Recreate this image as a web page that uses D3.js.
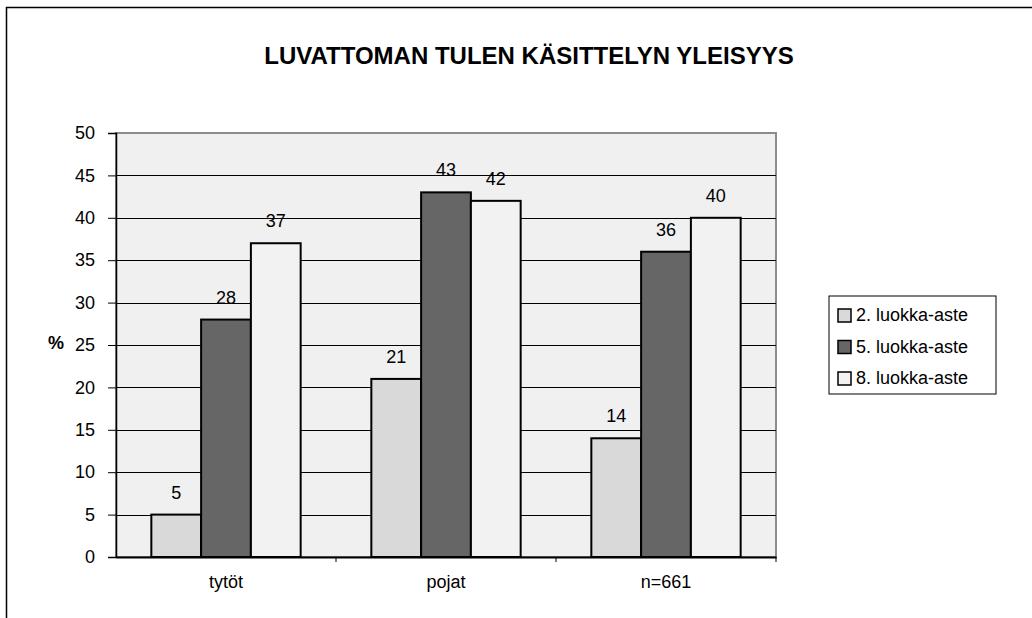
<!doctype html>
<html lang="fi">
<head>
<meta charset="UTF-8">
<title>Luvattoman tulen käsittelyn yleisyys</title>
<script src="https://cdn.jsdelivr.net/npm/d3@7"></script>
<style>
  body { margin: 0; background: #fff; }
  text { font-family: "Liberation Sans", Arial, sans-serif; fill: #000; }
</style>
</head>
<body>
<script>
var categories = ["tytöt", "pojat", "n=661"];
var seriesNames = ["2. luokka-aste", "5. luokka-aste", "8. luokka-aste"];
var grade2 = [5, 21, 14];
var grade5 = [28, 43, 36];
var grade8 = [37, 42, 40];
var yTicks = [0, 5, 10, 15, 20, 25, 30, 35, 40, 45, 50];
var colors = ["#d9d9d9", "#666666", "#f2f2f2"];

var seriesValues = [grade2, grade5, grade8];

var W = 1032, H = 618;
var plot = { left: 116, top: 133, right: 776, bottom: 557 };

var svg = d3.select("body").append("svg")
  .attr("width", W)
  .attr("height", H);

// outer chart border (top + left visible)
svg.append("path")
  .attr("d", "M6.5," + H + "V7.5H" + W)
  .attr("fill", "none")
  .attr("stroke", "#000")
  .attr("stroke-width", 1.5);

svg.append("text")
  .attr("x", 529)
  .attr("y", 64)
  .attr("text-anchor", "middle")
  .attr("font-size", "24px")
  .attr("font-weight", "bold")
  .text("LUVATTOMAN TULEN KÄSITTELYN YLEISYYS");

var x0 = d3.scaleBand()
  .domain(categories)
  .range([plot.left, plot.right]);

var x1 = d3.scaleBand()
  .domain(d3.range(seriesNames.length))
  .range([0, x0.bandwidth()])
  .paddingOuter(0.71)
  .paddingInner(0);

var y = d3.scaleLinear()
  .domain([0, 50])
  .range([plot.bottom, plot.top]);

// plot background
svg.append("rect")
  .attr("x", plot.left)
  .attr("y", plot.top)
  .attr("width", plot.right - plot.left)
  .attr("height", plot.bottom - plot.top)
  .attr("fill", "#f0f0f0")
  .attr("stroke", "#8c8c8c")
  .attr("stroke-width", 2);

// gridlines
svg.append("g")
  .selectAll("line")
  .data(yTicks.filter(function(d) { return d > 0 && d < 50; }))
  .enter().append("line")
  .attr("x1", plot.left)
  .attr("x2", plot.right)
  .attr("y1", function(d) { return Math.round(y(d)) + 0.5; })
  .attr("y2", function(d) { return Math.round(y(d)) + 0.5; })
  .attr("stroke", "#000")
  .attr("stroke-width", 1);

// y axis
var yAxis = d3.axisLeft(y)
  .tickValues(yTicks)
  .tickSize(8)
  .tickPadding(13);

var yG = svg.append("g")
  .attr("transform", "translate(" + plot.left + ",0)")
  .call(yAxis);
yG.select(".domain").attr("stroke", "#000").attr("stroke-width", 1.5);
yG.selectAll(".tick line").attr("stroke", "#000");
yG.selectAll(".tick text")
  .attr("font-size", "18px")
  .attr("font-family", "Liberation Sans, Arial, sans-serif")
  .attr("fill", "#000");

svg.append("text")
  .attr("x", 56)
  .attr("y", 349)
  .attr("text-anchor", "middle")
  .attr("font-size", "18px")
  .attr("font-weight", "bold")
  .text("%");

// bars
var groups = svg.append("g")
  .selectAll("g")
  .data(categories)
  .enter().append("g")
  .attr("transform", function(d) { return "translate(" + x0(d) + ",0)"; });

groups.selectAll("rect")
  .data(function(d, i) {
    return seriesValues.map(function(s, k) { return { k: k, v: s[i] }; });
  })
  .enter().append("rect")
  .attr("x", function(d) { return x1(d.k); })
  .attr("y", function(d) { return y(d.v); })
  .attr("width", x1.bandwidth())
  .attr("height", function(d) { return y(0) - y(d.v); })
  .attr("fill", function(d) { return colors[d.k]; })
  .attr("stroke", "#000")
  .attr("stroke-width", 2);

groups.selectAll("text")
  .data(function(d, i) {
    return seriesValues.map(function(s, k) { return { k: k, v: s[i] }; });
  })
  .enter().append("text")
  .attr("x", function(d) { return x1(d.k) + x1.bandwidth() / 2; })
  .attr("y", function(d) { return y(d.v) - 16; })
  .attr("text-anchor", "middle")
  .attr("font-size", "18px")
  .text(function(d) { return d.v; });

// x axis
var xAxis = d3.axisBottom(x0).tickSize(0).tickPadding(18);
var xG = svg.append("g")
  .attr("transform", "translate(0," + plot.bottom + ")")
  .call(xAxis);
xG.select(".domain").attr("stroke", "#000").attr("stroke-width", 2);
xG.selectAll(".tick text")
  .attr("font-size", "18px")
  .attr("font-family", "Liberation Sans, Arial, sans-serif")
  .attr("fill", "#000");

// category separator ticks
svg.append("g")
  .selectAll("line")
  .data(categories.slice(1).concat(["end"]))
  .enter().append("line")
  .attr("x1", function(d) { return d === "end" ? plot.right : x0(d); })
  .attr("x2", function(d) { return d === "end" ? plot.right : x0(d); })
  .attr("y1", plot.bottom)
  .attr("y2", plot.bottom + 5)
  .attr("stroke", "#000");

// legend
var legend = svg.append("g").attr("transform", "translate(829,296)");
legend.append("rect")
  .attr("width", 167)
  .attr("height", 98)
  .attr("fill", "#fff")
  .attr("stroke", "#000")
  .attr("stroke-width", 1);

var items = legend.selectAll("g.item")
  .data(seriesNames)
  .enter().append("g")
  .attr("class", "item")
  .attr("transform", function(d, i) { return "translate(0," + (25 + i * 31.5) + ")"; });

items.append("rect")
  .attr("x", 9)
  .attr("y", -12)
  .attr("width", 13)
  .attr("height", 13)
  .attr("fill", function(d, i) { return colors[i]; })
  .attr("stroke", "#000")
  .attr("stroke-width", 1.5);

items.append("text")
  .attr("x", 27)
  .attr("y", 0)
  .attr("font-size", "18px")
  .text(function(d) { return d; });
</script>
</body>
</html>
